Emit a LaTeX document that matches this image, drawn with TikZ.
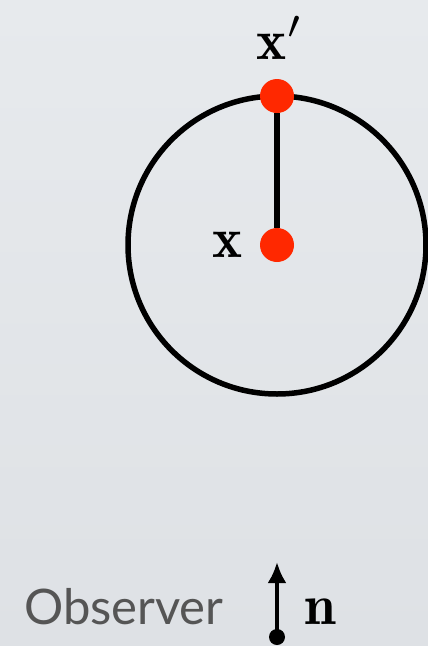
\documentclass[tikz,border=0pt]{standalone}
\usepackage{fontspec}
\usetikzlibrary{arrows.meta}
\newfontfamily\obsfont{Lato}
\newcommand{\biglbl}[1]{\scalebox{5.7}{$#1$}}
\definecolor{dotred}{RGB}{255,40,0}
\definecolor{bgtop}{RGB}{231,234,237}
\definecolor{bgbot}{RGB}{222,225,229}
\definecolor{obsgray}{RGB}{85,85,85}
\begin{document}
\begin{tikzpicture}[x=1pt,y=-1pt,
    pt/.style={circle,fill=dotred,inner sep=0pt,minimum size=34pt}]
    \shade[top color=bgtop, bottom color=bgbot] (0,0) rectangle (428,646);
    \useasboundingbox (0,0) rectangle (428,646);
    \draw[line width=5.5pt] (277,245) circle (149);
    \node[pt] (xp) at (277,96) {};
    \node[pt] (x) at (277,245) {};
    \draw[line width=5.5pt] (x) -- (xp);
    \node (xplbl) at (280,38) {\biglbl{\mathbf{x}'}};
    \node (xlbl) at (228,245) {\biglbl{\mathbf{x}}};
    \node[font=\obsfont\fontsize{49}{54}\selectfont, text=obsgray, anchor=base west, inner sep=0pt] (obs) at (24,624) {Observer};
    \coordinate (base) at (277,637);
    \coordinate (tip) at (277,562);
    \fill (base) circle (8);
    \draw[line width=4pt, -{Latex[length=21pt,width=19pt]}] (base) -- (tip);
    \node[anchor=base, inner sep=0pt] (n) at (320,624) {\biglbl{\mathbf{n}}};
\end{tikzpicture}
\end{document}
